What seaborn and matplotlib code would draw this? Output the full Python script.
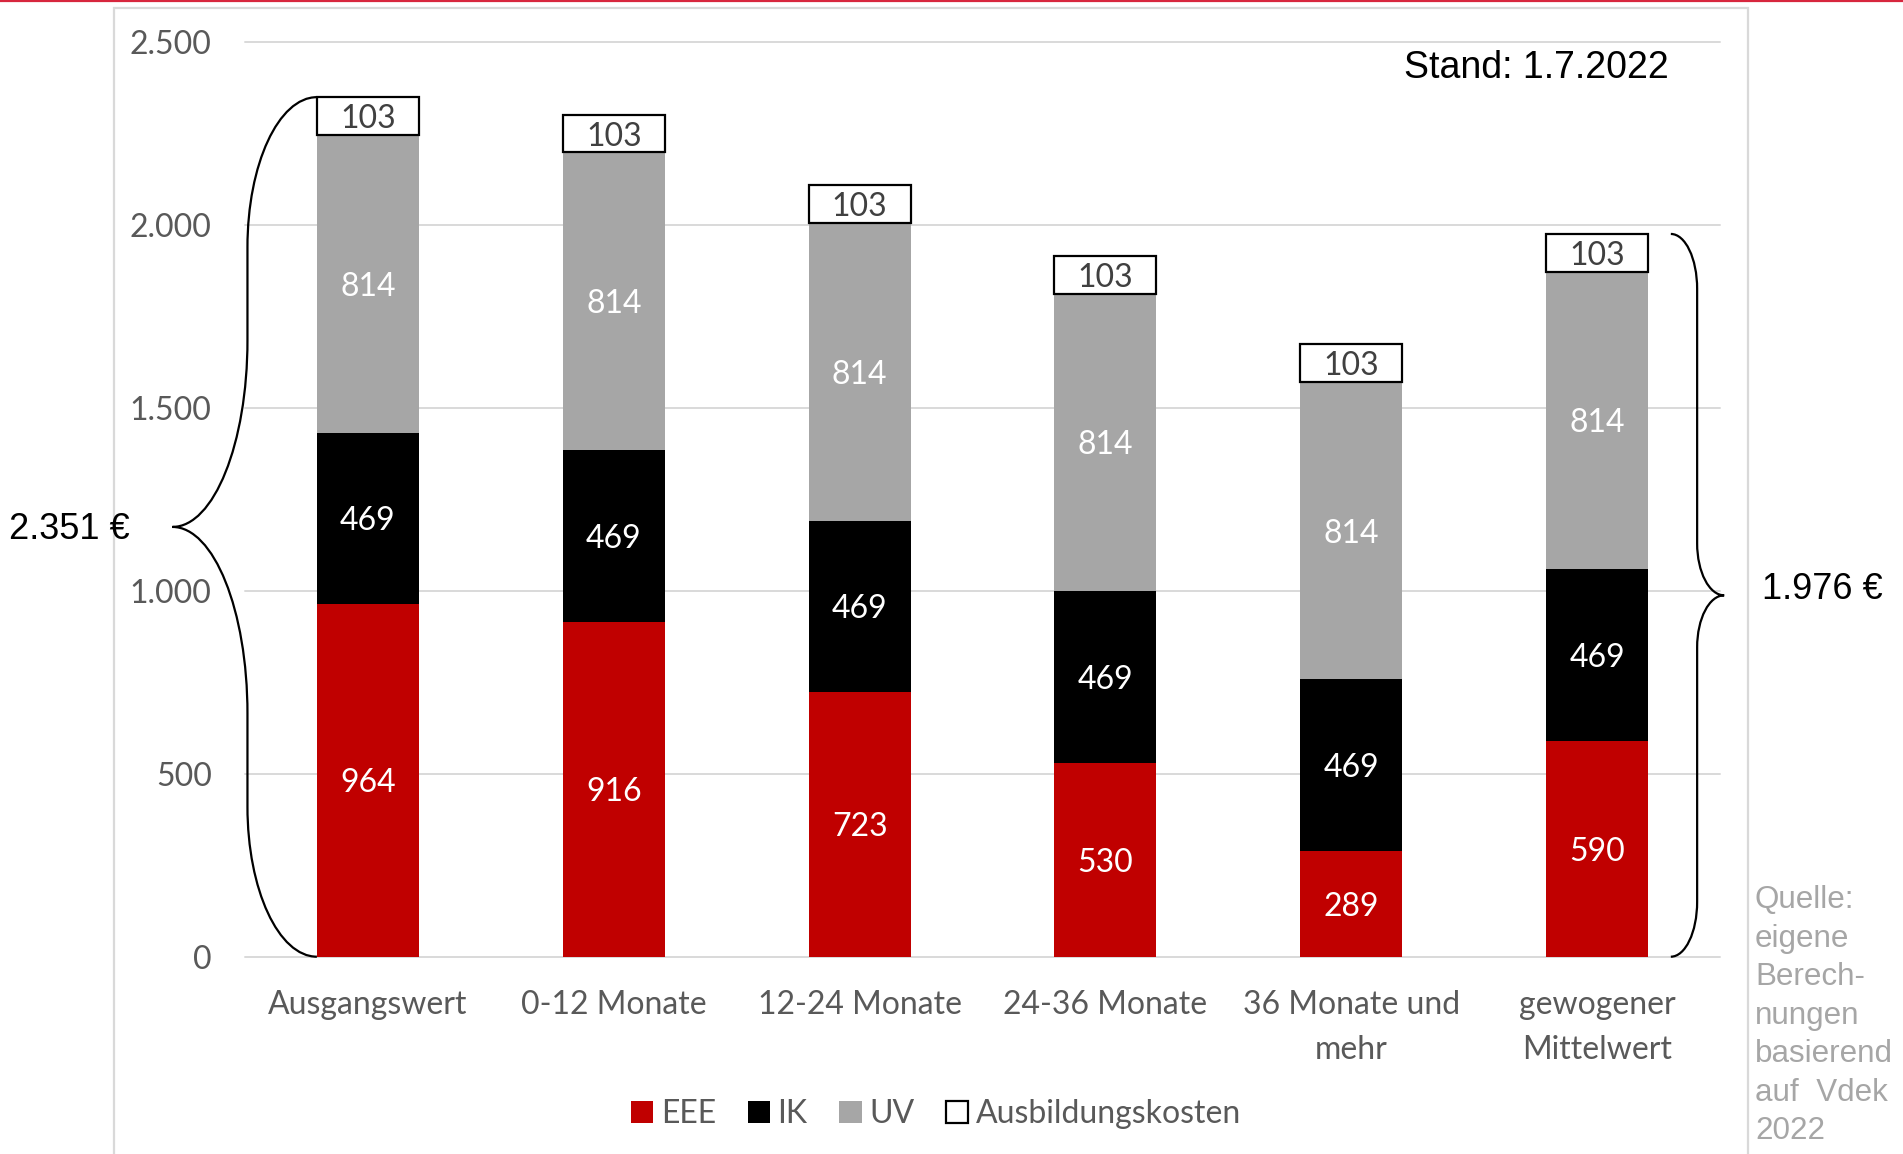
import numpy as np
import pandas as pd
import matplotlib
matplotlib.use("Agg")
import matplotlib.pyplot as plt
import seaborn as sns
from matplotlib.path import Path
from matplotlib.patches import PathPatch, Patch, Rectangle
from matplotlib.lines import Line2D
from matplotlib.ticker import FuncFormatter, MultipleLocator

# ---- data -------------------------------------------------------------
categories = ["Ausgangswert", "0-12 Monate", "12-24 Monate", "24-36 Monate",
              "36 Monate und\nmehr", "gewogener\nMittelwert"]
eee = [964, 916, 723, 530, 289, 590]
ik = [469, 469, 469, 469, 469, 469]
uv = [814, 814, 814, 814, 814, 814]
ausbildung = [103, 103, 103, 103, 103, 103]
series_names = ["EEE", "IK", "UV", "Ausbildungskosten"]
total_labels = ["2.351 €", "1.976 €"]
stand_text = "Stand: 1.7.2022"
source_text = "Quelle:\neigene\nBerech-\nnungen\nbasierend\nauf  Vdek\n2022"

# ---- styling ----------------------------------------------------------
sns.set_theme(style="white")
plt.rcParams["font.family"] = ["Lato", "DejaVu Sans"]

W, H = 1903, 1154
fig = plt.figure(figsize=(W / 100, H / 100), dpi=100)
fig.patch.set_facecolor("white")

ax_left, ax_right, ax_bottom, ax_top = 245, 1720, 956.7, 42.3
ax = fig.add_axes([ax_left / W, 1 - ax_bottom / H,
                   (ax_right - ax_left) / W, (ax_bottom - ax_top) / H])

df = pd.DataFrame({"Kategorie": categories, "EEE": eee, "IK": ik,
                   "UV": uv, "Ausbildungskosten": ausbildung})

face = {"EEE": "#c00000", "IK": "#000000", "UV": "#a6a6a6",
        "Ausbildungskosten": "#ffffff"}
edge = {"EEE": "none", "IK": "none", "UV": "none",
        "Ausbildungskosten": "#000000"}
lw = {"EEE": 0, "IK": 0, "UV": 0, "Ausbildungskosten": 1.6}
label_col = {"EEE": "white", "IK": "white", "UV": "white",
             "Ausbildungskosten": "#404040"}

FS = 23
bar_w = 0.415
bottom = np.zeros(len(categories))
for i, name in enumerate(series_names):
    sns.barplot(data=df, x="Kategorie", y=name, order=categories,
                bottom=bottom.copy(), width=bar_w, color=face[name],
                edgecolor=edge[name], linewidth=lw[name], saturation=1,
                errorbar=None, ax=ax, zorder=3 + i)
    bottom += df[name].to_numpy()

for cont, name in zip(ax.containers, series_names):
    labels = ax.bar_label(cont, fmt="{:.0f}", label_type="center",
                          color=label_col[name], fontsize=FS, zorder=10)
    for lab in labels:
        lab.set_va("center_baseline")

ax.set_ylim(0, 2500)
ax.set_xlim(-0.5, len(categories) - 0.5)
ax.yaxis.set_major_locator(MultipleLocator(500))
ax.yaxis.set_major_formatter(
    FuncFormatter(lambda v, p: f"{v:,.0f}".replace(",", ".")))
ax.set_xlabel("")
ax.set_ylabel("")
for s in ax.spines.values():
    s.set_visible(False)
ax.grid(axis="y", color="#d9d9d9", linewidth=1.4)
ax.grid(axis="x", visible=False)
ax.set_axisbelow(True)
for gl in ax.yaxis.get_gridlines():
    gl.set_clip_on(False)
ax.tick_params(axis="y", length=0, pad=24, labelsize=FS, labelcolor="#595959")
ax.tick_params(axis="x", length=0, pad=24, labelsize=FS, labelcolor="#595959")
for t in ax.get_xticklabels():
    t.set_linespacing(1.62)
ax.patch.set_alpha(0)


# ---- curly braces around the first and last column ------------------
def brace(ax, x_end, x_mid, x_tip, y0, y1, r_end, r_mid):
    k = 0.5523
    yt = (y0 + y1) / 2
    verts = [
        (x_end, y0),
        (x_end + k * (x_mid - x_end), y0), (x_mid, y0 + r_end - k * r_end), (x_mid, y0 + r_end),
        (x_mid, yt - r_mid),
        (x_mid, yt - r_mid + k * r_mid), (x_tip + k * (x_mid - x_tip), yt), (x_tip, yt),
        (x_tip + k * (x_mid - x_tip), yt), (x_mid, yt + r_mid - k * r_mid), (x_mid, yt + r_mid),
        (x_mid, y1 - r_end),
        (x_mid, y1 - r_end + k * r_end), (x_end + k * (x_mid - x_end), y1), (x_end, y1),
    ]
    codes = [Path.MOVETO,
             Path.CURVE4, Path.CURVE4, Path.CURVE4,
             Path.LINETO,
             Path.CURVE4, Path.CURVE4, Path.CURVE4,
             Path.CURVE4, Path.CURVE4, Path.CURVE4,
             Path.LINETO,
             Path.CURVE4, Path.CURVE4, Path.CURVE4]
    ax.add_patch(PathPatch(Path(verts, codes), fill=False, edgecolor="black",
                           linewidth=1.6, clip_on=False, zorder=12))
    return x_tip, yt


totals = bottom
tip_l = brace(ax, -bar_w / 2, -0.49, -0.795, 0, totals[0], 410, 510)
tip_r = brace(ax, 5.30, 5.407, 5.517, 0, totals[-1], 150, 142)

arial = ["Liberation Sans", "DejaVu Sans"]
ax.annotate(total_labels[0], xy=tip_l, xytext=(-31, 1), textcoords="offset points",
            ha="right", va="center_baseline", fontsize=26, family=arial,
            color="black", annotation_clip=False)
ax.annotate(total_labels[1], xy=tip_r, xytext=(27, 7), textcoords="offset points",
            ha="left", va="center_baseline", fontsize=26, family=arial,
            color="black", annotation_clip=False)

fig.text(1669 / W, 1 - 68 / H, stand_text, ha="right", va="center",
         fontsize=27, family=arial, color="black")
fig.text(1755 / W, 1 - 885 / H, source_text, ha="left", va="top",
         fontsize=22.6, family=arial, color="#a6a6a6", linespacing=1.37)

# ---- legend -----------------------------------------------------------
handles = [Patch(facecolor=face[n], edgecolor=("black" if n == "Ausbildungskosten" else face[n]),
                 linewidth=(1.6 if n == "Ausbildungskosten" else 0)) for n in series_names]
leg = fig.legend(handles, series_names, loc="center",
                 bbox_to_anchor=(936 / W, 1 - 1114 / H), ncol=4, frameon=False,
                 fontsize=FS, handlelength=0.7, handleheight=0.7,
                 handletextpad=0.23, columnspacing=1.0, borderaxespad=0)
for t in leg.get_texts():
    t.set_color("#595959")

# ---- chart frame and top rule ---------------------------------------
fig.add_artist(Rectangle((114 / W, -0.05), (1748 - 114) / W, 1.05 - 8.3 / H,
                         transform=fig.transFigure, fill=False,
                         edgecolor="#d9d9d9", linewidth=1.6, zorder=0))
fig.add_artist(Line2D([0, 1], [1 - 1 / H, 1 - 1 / H], color="#d7263d",
                      linewidth=1.6, transform=fig.transFigure))

fig.savefig("out.png", dpi=100)
